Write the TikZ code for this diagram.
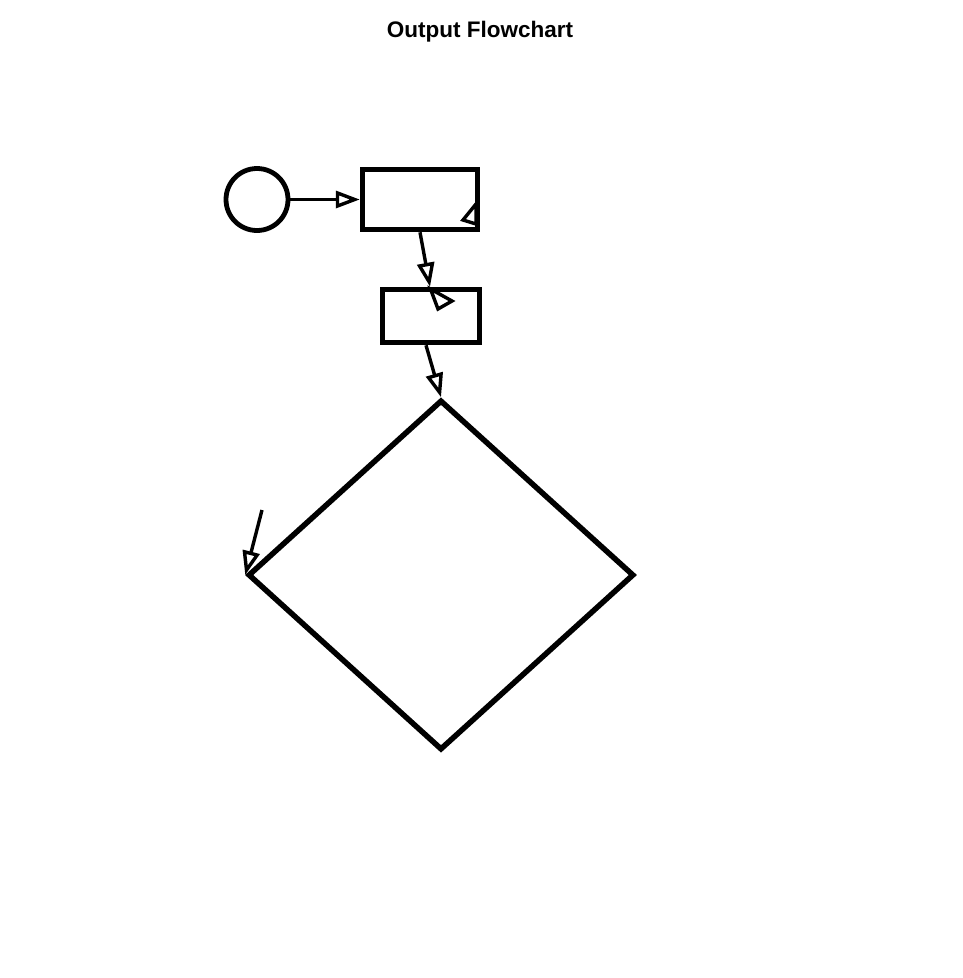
\documentclass[tikz,border=0pt]{standalone}
\usepackage{fontspec}
\setmainfont{Liberation Sans}
\usetikzlibrary{arrows.meta,shapes.geometric}

\begin{document}
\begin{tikzpicture}[x=1pt,y=-1pt]
            \tikzstyle{every node}=[draw,line width=5.5pt,inner sep=0pt];
            \tikzstyle{flow}=[line width=3.4pt,-{Triangle[open,length=24pt,width=17pt]}];
            \tikzstyle{head}=[line width=3.4pt,line join=miter];
            \useasboundingbox (0,0) rectangle (962,978);
            \node[draw=none,font=\bfseries\fontsize{22.5}{26}\selectfont] (title) at (480,31.5) {Output Flowchart};
            \node[circle,minimum size=62pt,line width=4.8pt] (start) at (257,199.5) {};
            \node[rectangle,minimum width=115pt,minimum height=60pt] (box1) at (420,199.5) {};
            \node[rectangle,minimum width=97pt,minimum height=53pt] (box2) at (431,316) {};
            \node[diamond,minimum width=386pt,minimum height=350pt] (check) at (441,575) {};
            \coordinate (loose) at (262,510);
            \draw[flow] (start.east) -- (box1.west);
            \draw[flow] (box1.south) -- ([xshift=-1pt]box2.north);
            \draw[flow] ([xshift=-5pt]box2.south) -- (check.north);
            \draw[flow] (loose) -- (check.west);
            % heads with no line
            \draw[head] (463,220) -- (476,204) -- (476,224) -- cycle;
            \draw[head] (430.5,289) -- (452,301) -- (438,309) -- cycle;
        \end{tikzpicture}
\end{document}
